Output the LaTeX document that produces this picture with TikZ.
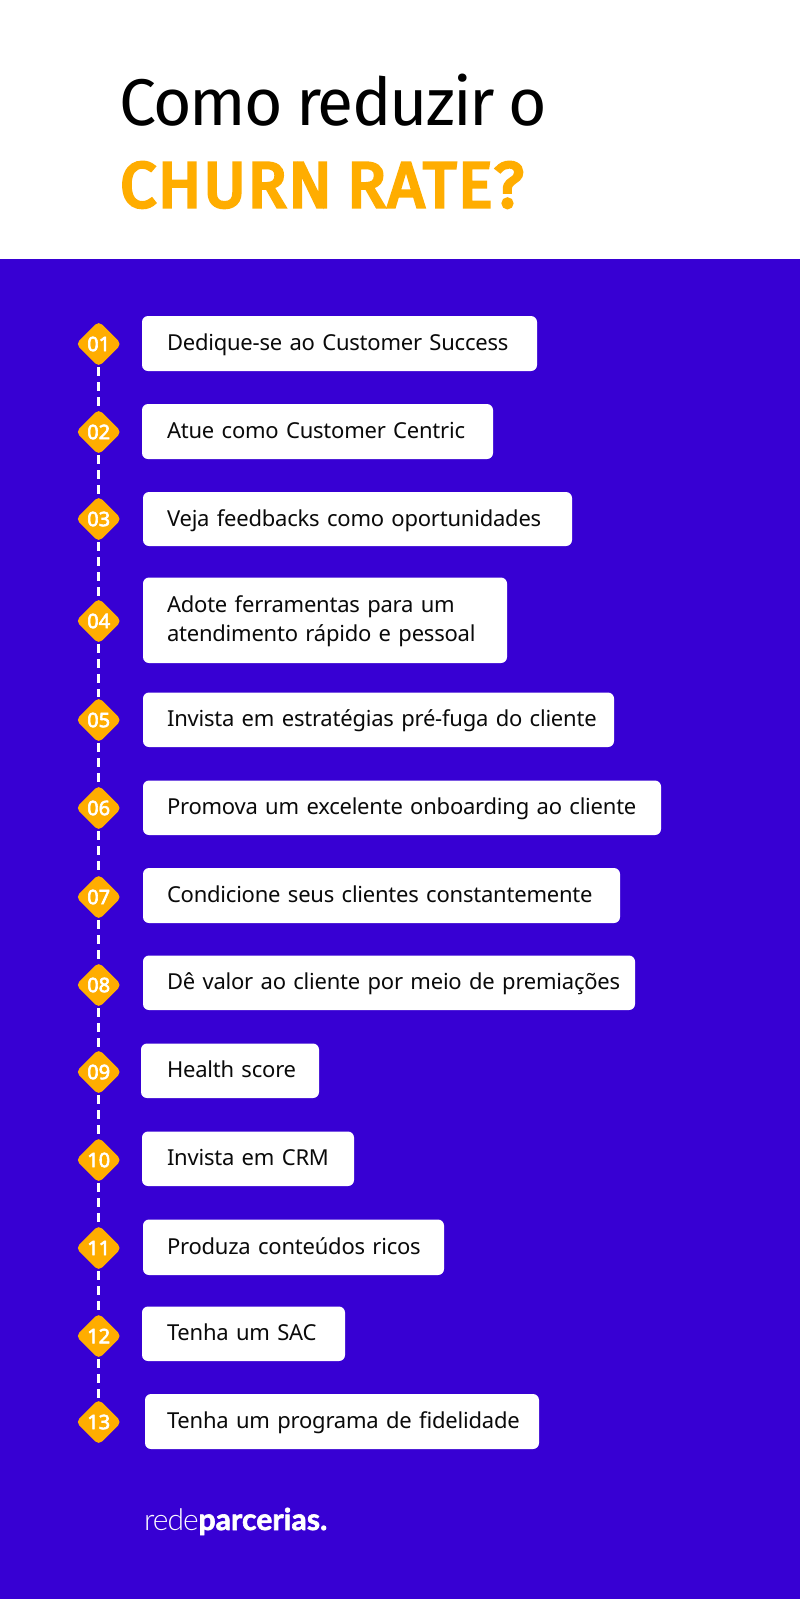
\documentclass[tikz,border=0pt]{standalone}
\usepackage{fontspec}
\usetikzlibrary{shapes.geometric}
\setmainfont[LetterSpace=-1,WordSpace=.72]{Noto Sans}
\newfontfamily\badgefont[FakeBold=3]{Noto Sans}
\newfontfamily\titlefont[LetterSpace=-2.8,WordSpace=.85]{Fira Sans}
\newfontfamily\heavyfont[FakeBold=5,LetterSpace=3,WordSpace=.8]{Fira Sans}
\newfontfamily\logolight[LetterSpace=-3.5]{Lato Light}
\newfontfamily\logoheavy[BoldFeatures={FakeBold=2},LetterSpace=.4]{Lato}
\definecolor{bgblue}{HTML}{3700D3}
\definecolor{accent}{HTML}{FFAD00}
\definecolor{ink}{HTML}{0A0A0A}
\tikzset{
  stepbox/.style={fill=white,rounded corners=6pt,inner xsep=0pt,inner ysep=0pt,text=ink,
    font=\fontsize{22}{29}\selectfont,align=left},
  badge/.style={diamond,aspect=1,fill=accent,rounded corners=5pt,minimum size=46pt,inner sep=0pt,
    text=white,font=\fontsize{20}{20}\badgefont\selectfont},
  linkline/.style={draw=white,line width=3pt,dash pattern=on 9pt off 6pt},
  titletext/.style={anchor=base west,inner sep=0pt}
}
\newcommand{\stepitem}[7]{% name, left, top, right, bottom, badge y, text
  \pgfmathsetmacro{\bw}{#4-#2}\pgfmathsetmacro{\bh}{#5-#3}
  \pgfmathsetmacro{\bx}{(#4+#2)/2}\pgfmathsetmacro{\by}{(#5+#3)/2}
  \pgfmathsetmacro{\bs}{167-#2}
  \node[stepbox,text width=\bw pt,minimum height=\bh pt] (box#1) at (\bx,\by)
    {\hspace*{\bs pt}\raisebox{-6.5pt}[0pt][0pt]{\begin{tabular}{@{}l@{}}#7\end{tabular}}};
  \node[badge] (b#1) at (98.7,#6) {#1};
}
\begin{document}
\begin{tikzpicture}[x=1pt,y=-1pt]
\useasboundingbox (0,0) rectangle (800,1599);
\fill[white] (0,0) rectangle (800,259);
\fill[bgblue] (0,259) rectangle (800,1599);
\node[titletext,font=\fontsize{66}{66}\titlefont\selectfont,text=black] (t1) at (119,125) {Como reduzir o};
\node[titletext,font=\fontsize{64}{64}\heavyfont\selectfont,text=accent] (t2) at (120,207) {CHURN RATE?};
\stepitem{01}{142}{316}{537}{371}{344}{Dedique-se ao Customer Success}
\stepitem{02}{142}{404}{493}{459}{432}{Atue como Customer Centric}
\stepitem{03}{143}{492}{572}{546}{519}{Veja feedbacks como oportunidades}
\stepitem{04}{143}{577.5}{507}{663}{621}{Adote ferramentas para um\\atendimento rápido e pessoal}
\stepitem{05}{143}{692.5}{614}{747}{720}{Invista em estratégias pré-fuga do cliente}
\stepitem{06}{143}{780.5}{661}{835}{808}{Promova um excelente onboarding ao cliente}
\stepitem{07}{143}{868}{620}{923}{897}{Condicione seus clientes constantemente}
\stepitem{08}{143}{955.5}{635}{1010}{985}{Dê valor ao cliente por meio de premiações}
\stepitem{09}{141}{1043.5}{319}{1098}{1072}{Health score}
\stepitem{10}{142}{1131.5}{354}{1186}{1160}{Invista em CRM}
\stepitem{11}{143}{1219.5}{444}{1275}{1248}{Produza conteúdos ricos}
\stepitem{12}{142}{1306.5}{345}{1361}{1336}{Tenha um SAC}
\stepitem{13}{145}{1394}{539}{1449}{1422}{Tenha um programa de fidelidade}
\foreach \a/\c in {01/02,02/03,03/04,04/05,05/06,06/07,07/08,08/09,09/10,10/11,11/12,12/13}
  \draw[linkline] (b\a.south) -- (b\c.north);
\node[titletext,text=white] (logo) at (144,1530)
  {\fontsize{30}{30}\logolight\selectfont rede\logoheavy\bfseries parcerias.};
\end{tikzpicture}
\end{document}
